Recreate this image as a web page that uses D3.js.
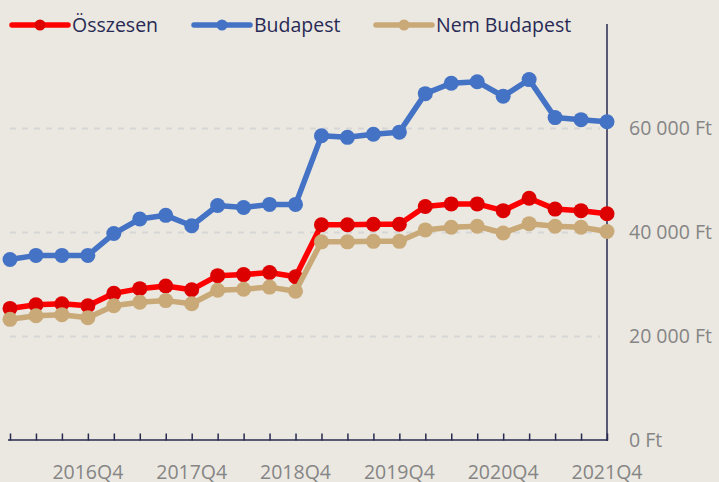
<!DOCTYPE html>
<html>
<head>
<meta charset="utf-8">
<script src="https://cdn.jsdelivr.net/npm/d3@7"></script>
<style>
  body { margin: 0; background: #EBE8E1; }
  svg { display: block; font-family: "Open Sans", "Noto Sans", sans-serif; }
</style>
</head>
<body>
<script>
// Quarters 2016Q1 .. 2021Q4
const quarters = [];
for (let y = 2016; y <= 2021; y++) for (let q = 1; q <= 4; q++) quarters.push(`${y}Q${q}`);

const osszesen = [25400, 26100, 26300, 25900, 28300, 29200, 29700, 29000, 31700, 31900, 32300, 31500,
  41500, 41500, 41600, 41600, 45000, 45500, 45500, 44200, 46600, 44500, 44200, 43600];
const budapest = [34800, 35600, 35600, 35600, 39800, 42600, 43300, 41300, 45200, 44800, 45400, 45400,
  58600, 58300, 58900, 59300, 66700, 68700, 69000, 66200, 69400, 62100, 61700, 61300];
const nemBudapest = [23300, 24000, 24200, 23600, 25900, 26600, 26900, 26300, 28900, 29100, 29500, 28700,
  38200, 38200, 38300, 38300, 40500, 41000, 41200, 39900, 41700, 41200, 41000, 40200];

const yTicks = [0, 20000, 40000, 60000];

const series = [
  { name: 'Összesen', values: osszesen, line: '#FF0000', dot: '#DD0000' },
  { name: 'Budapest', values: budapest, line: '#4472C4', dot: '#4472C4' },
  { name: 'Nem Budapest', values: nemBudapest, line: '#C9A977', dot: '#C9A977' }
];

const width = 719, height = 482;
const svg = d3.select('body').append('svg')
  .attr('width', width).attr('height', height);

const x = d3.scalePoint().domain(quarters).range([10, 607]);
const y = d3.scaleLinear().domain([0, 80000]).range([440.5, 24.5]);

// gridlines
svg.append('g').selectAll('line')
  .data(yTicks.filter(d => d > 0))
  .join('line')
  .attr('x1', 10).attr('x2', 600)
  .attr('y1', d => y(d)).attr('y2', d => y(d))
  .attr('stroke', '#D6D6D6').attr('stroke-width', 2)
  .attr('stroke-dasharray', '6,6');

// y axis (right)
const axisColor = '#262A50';
svg.append('line')
  .attr('x1', 607).attr('x2', 607).attr('y1', 24).attr('y2', 441)
  .attr('stroke', axisColor).attr('stroke-width', 1.5);

svg.append('g').selectAll('text')
  .data(yTicks)
  .join('text')
  .attr('x', 629).attr('y', d => y(d)).attr('dy', '0.35em')
  .attr('fill', '#858585').style('font-size', '19.5px')
  .text(d => d3.format(',')(d).replace(/,/g, ' ') + ' Ft');

// x axis (bottom)
const xAxis = d3.axisBottom(x).tickSize(-7).tickFormat('');
const xg = svg.append('g').attr('transform', 'translate(0,440.5)').call(xAxis);
xg.select('.domain').attr('d', 'M8,-0.5H607.5').attr('stroke', axisColor).attr('stroke-width', 1.5);
xg.selectAll('.tick line').attr('stroke', axisColor).attr('stroke-width', 1.5);

svg.append('g').selectAll('text')
  .data(quarters.filter(q => q.endsWith('Q4')))
  .join('text')
  .attr('x', d => x(d)).attr('y', 472).attr('dy', '0.35em')
  .attr('text-anchor', 'middle')
  .attr('fill', '#858585').style('font-size', '19.5px')
  .text(d => d);

// lines + markers
const line = d3.line().x((d, i) => x(quarters[i])).y(d => y(d));
series.forEach(s => {
  const g = svg.append('g');
  g.append('path').datum(s.values)
    .attr('d', line).attr('fill', 'none')
    .attr('stroke', s.line).attr('stroke-width', 5.5)
    .attr('stroke-linejoin', 'round');
  g.selectAll('circle').data(s.values).join('circle')
    .attr('cx', (d, i) => x(quarters[i])).attr('cy', d => y(d))
    .attr('r', 7.5).attr('fill', s.dot);
});

// legend
const legendX = [12, 194, 376];
const legend = svg.append('g').selectAll('g')
  .data(series).join('g')
  .attr('transform', (d, i) => `translate(${legendX[i]},25)`);
legend.append('line')
  .attr('x1', 0).attr('x2', 56).attr('y1', 0).attr('y2', 0)
  .attr('stroke', d => d.line).attr('stroke-width', 5.5).attr('stroke-linecap', 'round');
legend.append('circle')
  .attr('cx', 28).attr('cy', 0).attr('r', 5.5).attr('fill', d => d.dot);
legend.append('text')
  .attr('x', 60).attr('y', 0).attr('dy', '0.35em')
  .attr('fill', '#282A55').style('font-size', '19.5px')
  .text(d => d.name);
</script>
</body>
</html>
